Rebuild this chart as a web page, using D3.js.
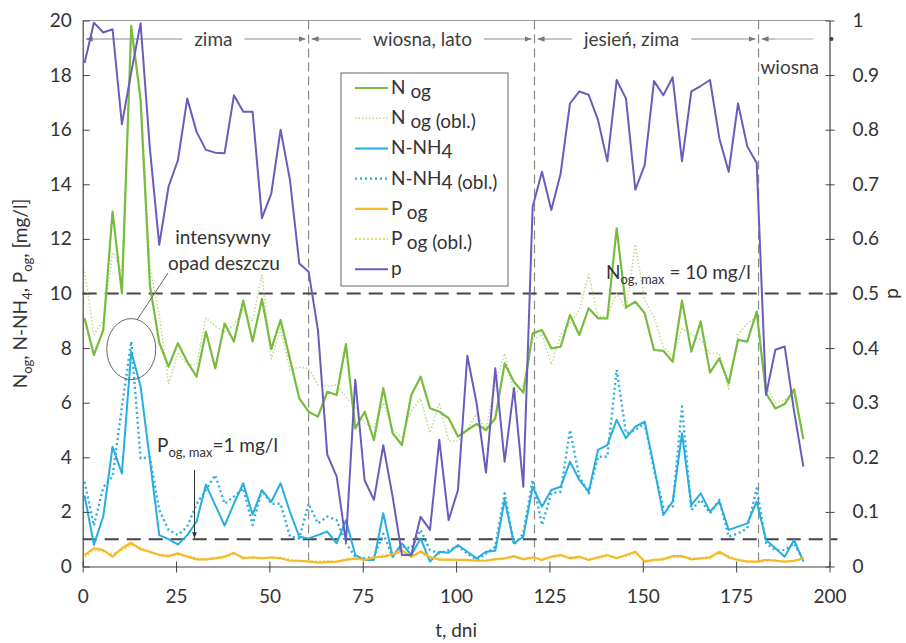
<!DOCTYPE html>
<html lang="pl">
<head>
<meta charset="UTF-8">
<title>N og, N-NH4, P og, p</title>
<script src="https://cdn.jsdelivr.net/npm/d3@7"></script>
<style>
  body { margin: 0; background: #fff; }
  svg text { font-family: Lato, "Open Sans", sans-serif; fill: #333; }
</style>
</head>
<body>
<script>
// sampling days
var days = [0.5, 3, 5.5, 8, 10.5, 13, 15.5, 18, 20.5, 23, 25.5, 28, 30.5, 33, 35.5, 38, 40.5, 43, 45.5, 48,
  50.5, 53, 55.5, 58, 60.5, 63, 65.5, 68, 70.5, 73, 75.5, 78, 80.5, 83, 85.5, 88, 90.5, 93, 95.5, 98,
  100.5, 103, 105.5, 108, 110.5, 113, 115.5, 118, 120.5, 123, 125.5, 128, 130.5, 133, 135.5, 138, 140.5, 143, 145.5, 148,
  150.5, 153, 155.5, 158, 160.5, 163, 165.5, 168, 170.5, 173, 175.5, 178, 180.5, 183, 185.5, 188, 190.5, 193];

var nOg = [9.09, 7.75, 8.66, 13.0, 10.0, 19.8, 17.1, 10.3, 8.2, 7.32,
  8.18, 7.5, 6.95, 8.6, 7.26, 8.9, 8.24, 9.74, 8.24, 9.8,
  7.96, 9.03, 7.6, 6.16, 5.67, 5.49, 6.4, 6.28, 8.15, 5.06,
  5.67, 4.63, 6.53, 4.88, 4.45, 6.28, 6.95, 5.8, 5.67, 5.43,
  4.76, 5.0, 5.22, 5.0, 5.43, 7.44, 6.76, 6.37, 8.54, 8.66,
  7.99, 8.05, 9.21, 8.48, 9.46, 9.09, 9.09, 12.39, 9.49, 9.7,
  9.28, 7.93, 7.9, 7.5, 9.74, 7.87, 8.97, 7.1, 7.62, 6.71,
  8.3, 8.24, 9.34, 6.34, 5.79, 5.95, 6.49, 4.66];

var nOgObl = [10.8, 8.5, 9.0, 11.5, 10.8, 19.5, 17.3, 11.0, 9.2, 6.7,
  7.8, 7.4, 7.4, 9.1, 8.8, 8.6, 8.85, 9.4, 9.0, 10.7,
  7.6, 8.7, 7.2, 7.3, 7.26, 6.65, 6.6, 6.65, 6.2, 5.85,
  5.25, 5.1, 6.0, 5.0, 4.75, 5.7, 6.15, 4.9, 6.0, 4.6,
  4.6, 5.0, 5.6, 5.0, 6.7, 7.8, 6.3, 6.65, 8.3, 8.5,
  7.4, 8.5, 8.9, 9.4, 10.7, 9.15, 9.15, 10.0, 9.4, 11.8,
  9.76, 9.15, 8.05, 7.7, 8.7, 8.5, 8.3, 7.8, 7.8, 6.5,
  8.5, 8.9, 9.15, 6.6, 6.0, 6.1, 6.35, 4.6];

var nh4 = [2.6, 0.79, 1.83, 4.39, 3.41, 7.87, 6.6, 3.9, 1.15, 1.0,
  0.8, 1.15, 1.65, 3.0, 2.25, 1.5, 2.3, 3.05, 1.9, 2.8,
  2.37, 3.05, 2.0, 1.09, 1.03, 1.15, 1.28, 0.85, 1.7, 0.42,
  0.24, 0.24, 1.95, 0.36, 0.85, 0.42, 1.03, 0.18, 0.54, 0.5,
  0.79, 0.54, 0.3, 0.54, 0.58, 2.44, 0.85, 1.09, 2.92, 2.19,
  2.8, 2.92, 3.84, 3.17, 2.74, 4.27, 4.45, 5.37, 4.7, 5.12,
  5.31, 3.66, 1.89, 2.38, 4.88, 2.25, 2.68, 2.01, 2.38, 1.34,
  1.46, 1.58, 2.38, 0.97, 0.67, 0.36, 0.97, 0.18];

var nh4Obl = [3.1, 1.5, 2.9, 3.3, 5.85, 8.24, 3.96, 4.0, 2.07, 1.34,
  1.15, 1.46, 2.3, 2.8, 3.35, 2.3, 2.56, 2.86, 1.52, 2.8,
  2.3, 2.3, 1.1, 1.03, 2.3, 1.58, 1.83, 1.7, 0.85, 0.36,
  0.3, 0.36, 1.2, 0.36, 0.73, 0.67, 1.34, 0.6, 0.48, 0.6,
  0.73, 0.48, 0.24, 0.48, 0.73, 2.68, 0.79, 1.21, 3.17, 1.52,
  2.68, 2.74, 5.0, 3.29, 2.68, 4.02, 4.02, 7.2, 4.88, 5.0,
  5.25, 3.54, 2.19, 2.19, 5.86, 2.07, 2.44, 1.95, 2.44, 1.09,
  1.21, 1.4, 2.86, 0.85, 0.6, 0.6, 0.85, 0.24];

var pOg = [0.42, 0.67, 0.6, 0.36, 0.67, 0.87, 0.63, 0.54, 0.42, 0.38,
  0.48, 0.36, 0.26, 0.26, 0.3, 0.36, 0.5, 0.3, 0.34, 0.3,
  0.34, 0.3, 0.21, 0.21, 0.18, 0.14, 0.16, 0.18, 0.24, 0.3,
  0.24, 0.34, 0.36, 0.45, 0.6, 0.35, 0.55, 0.35, 0.25, 0.25,
  0.24, 0.24, 0.21, 0.22, 0.26, 0.3, 0.38, 0.26, 0.34, 0.24,
  0.36, 0.42, 0.3, 0.36, 0.24, 0.34, 0.42, 0.3, 0.42, 0.54,
  0.18, 0.24, 0.26, 0.38, 0.38, 0.26, 0.3, 0.34, 0.54, 0.34,
  0.24, 0.18, 0.18, 0.24, 0.21, 0.18, 0.21, 0.3];

var pOgObl = [0.35, 0.6, 0.55, 0.45, 0.6, 0.8, 0.7, 0.5, 0.45, 0.4,
  0.42, 0.4, 0.3, 0.25, 0.33, 0.32, 0.45, 0.35, 0.3, 0.33,
  0.3, 0.33, 0.25, 0.2, 0.2, 0.18, 0.2, 0.16, 0.28, 0.26,
  0.28, 0.3, 0.4, 0.4, 0.55, 0.4, 0.5, 0.32, 0.28, 0.22,
  0.26, 0.22, 0.24, 0.2, 0.28, 0.28, 0.35, 0.3, 0.3, 0.28,
  0.33, 0.38, 0.34, 0.33, 0.28, 0.3, 0.38, 0.34, 0.38, 0.5,
  0.22, 0.22, 0.3, 0.35, 0.35, 0.3, 0.28, 0.3, 0.5, 0.38,
  0.22, 0.2, 0.16, 0.2, 0.24, 0.16, 0.2, 0.28];

// p (right axis)
var pRatio = [0.922, 0.996, 0.978, 0.984, 0.810, 0.905, 0.995, 0.765, 0.589, 0.696,
  0.744, 0.857, 0.796, 0.763, 0.758, 0.757, 0.863, 0.833, 0.833, 0.638,
  0.683, 0.800, 0.708, 0.555, 0.540, 0.433, 0.205, 0.165, 0.045, 0.342,
  0.158, 0.122, 0.222, 0.128, 0.021, 0.021, 0.091, 0.067, 0.232, 0.085,
  0.140, 0.386, 0.299, 0.172, 0.363, 0.192, 0.327, 0.146, 0.659, 0.723,
  0.653, 0.720, 0.848, 0.870, 0.864, 0.818, 0.742, 0.891, 0.857, 0.690,
  0.735, 0.889, 0.863, 0.896, 0.742, 0.870, 0.880, 0.891, 0.784, 0.723,
  0.848, 0.769, 0.739, 0.314, 0.397, 0.403, 0.285, 0.183];

var xTicks = [0, 25, 50, 75, 100, 125, 150, 175, 200];
var yTicksLeft = [0, 2, 4, 6, 8, 10, 12, 14, 16, 18, 20];
var yTicksRight = [0, 0.1, 0.2, 0.3, 0.4, 0.5, 0.6, 0.7, 0.8, 0.9, 1];

var seasonNames = ["zima", "wiosna, lato", "jesień, zima", "wiosna"];
var seasonBounds = [0, 60.5, 121, 181, 200];
var limits = [10, 1];

var w = 906;
var h = 643;

var x = d3.scaleLinear().domain([0, 200]).range([82.7, 829.5]);
var yL = d3.scaleLinear().domain([0, 20]).range([566.5, 20.5]);
var yR = d3.scaleLinear().domain([0, 1]).range([566.5, 20.5]);

var svg = d3.select("body")
  .append("svg")
  .attr("width", w)
  .attr("height", h);

var defs = svg.append("defs");
defs.append("marker")
  .attr("id", "arr")
  .attr("viewBox", "0 0 10 10")
  .attr("refX", 10).attr("refY", 5)
  .attr("markerWidth", 7).attr("markerHeight", 7)
  .attr("orient", "auto-start-reverse")
  .append("path")
  .attr("d", "M0,1L10,5L0,9z")
  .attr("fill", "#777");
defs.append("marker")
  .attr("id", "arrDark")
  .attr("viewBox", "0 0 10 10")
  .attr("refX", 10).attr("refY", 5)
  .attr("markerWidth", 6).attr("markerHeight", 6)
  .attr("orient", "auto")
  .append("path")
  .attr("d", "M0,1L10,5L0,9z")
  .attr("fill", "#333");

// frame top
svg.append("line")
  .attr("x1", x(0)).attr("x2", x(200))
  .attr("y1", yL(20)).attr("y2", yL(20))
  .attr("stroke", "#999").attr("stroke-width", 1);

// season separators
svg.selectAll("line.sep")
  .data(seasonBounds.slice(1, 4))
  .enter()
  .append("line")
  .attr("class", "sep")
  .attr("x1", function (d) { return x(d); })
  .attr("x2", function (d) { return x(d); })
  .attr("y1", yL(20)).attr("y2", yL(0))
  .attr("stroke", "#8a8a8a")
  .attr("stroke-width", 1.2)
  .attr("stroke-dasharray", "9,5");

// limit lines
svg.selectAll("line.limit")
  .data(limits)
  .enter()
  .append("line")
  .attr("class", "limit")
  .attr("x1", x(0)).attr("x2", x(200) + 8)
  .attr("y1", function (d) { return yL(d); })
  .attr("y2", function (d) { return yL(d); })
  .attr("stroke", "#444")
  .attr("stroke-width", 2)
  .attr("stroke-dasharray", "14,8");

// season labels with arrows
var seasonLabelX = [35, 91, 147, 181.5];
seasonNames.forEach(function (name, i) {
  var x0 = x(seasonBounds[i]) + 3;
  var x1 = x(seasonBounds[i + 1]) - 3;
  var ly = 39;
  if (i < 3) {
    var t = svg.append("text")
      .attr("x", x(seasonLabelX[i]))
      .attr("y", ly + 7)
      .attr("text-anchor", "middle")
      .style("font-size", "19px")
      .style("fill", "#404040")
      .text(name);
    var tw = t.node().getComputedTextLength();
    var cx = x(seasonLabelX[i]);
    svg.append("line")
      .attr("x1", cx - tw / 2 - 12).attr("x2", x0)
      .attr("y1", ly).attr("y2", ly)
      .attr("stroke", "#888").attr("stroke-width", 1)
      .attr("marker-end", "url(#arr)");
    svg.append("line")
      .attr("x1", cx + tw / 2 + 12).attr("x2", x1)
      .attr("y1", ly).attr("y2", ly)
      .attr("stroke", "#888").attr("stroke-width", 1)
      .attr("marker-end", "url(#arr)");
  } else {
    svg.append("text")
      .attr("x", x(seasonLabelX[i]))
      .attr("y", 74)
      .style("font-size", "19px")
      .style("fill", "#404040")
      .text(name);
    svg.append("line")
      .attr("x1", x0 + 14).attr("x2", x0)
      .attr("y1", ly).attr("y2", ly)
      .attr("stroke", "#888").attr("stroke-width", 1)
      .attr("marker-end", "url(#arr)");
    svg.append("line")
      .attr("x1", x0 + 14).attr("x2", x(200) - 16)
      .attr("y1", ly).attr("y2", ly)
      .attr("stroke", "#aaa").attr("stroke-width", 1);
    svg.append("circle")
      .attr("cx", x(200) + 2).attr("cy", ly).attr("r", 2)
      .attr("fill", "#444");
  }
});

// series
var series = [
  { values: nOgObl, scale: yL, color: "#b9dc8c", width: 1.5, dash: "1.5,2" },
  { values: pOgObl, scale: yL, color: "#e2df5a", width: 2, dash: "2,2" },
  { values: nh4Obl, scale: yL, color: "#2aaee0", width: 2.4, dash: "2,3" },
  { values: nOg, scale: yL, color: "#77bc3d", width: 2.2, dash: null },
  { values: nh4, scale: yL, color: "#27aee0", width: 2, dash: null },
  { values: pOg, scale: yL, color: "#f7b928", width: 2.2, dash: null },
  { values: pRatio, scale: yR, color: "#6a5cbc", width: 2, dash: null }
];

series.forEach(function (s) {
  var line = d3.line()
    .x(function (d, i) { return x(days[i]); })
    .y(function (d) { return s.scale(d); });
  svg.append("path")
    .datum(s.values)
    .attr("d", line)
    .attr("fill", "none")
    .attr("stroke", s.color)
    .attr("stroke-width", s.width)
    .attr("stroke-linejoin", "round")
    .attr("stroke-dasharray", s.dash);
});

// axes
var axL = svg.append("g")
  .attr("transform", "translate(" + x(0) + ",0)")
  .call(d3.axisLeft(yL).tickValues(yTicksLeft).tickSizeInner(-7).tickSizeOuter(0).tickPadding(11));
var axR = svg.append("g")
  .attr("transform", "translate(" + x(200) + ",0)")
  .call(d3.axisRight(yR).tickValues(yTicksRight).tickSizeInner(5).tickSizeOuter(0).tickPadding(18)
    .tickFormat(function (d) { return d === 0 || d === 1 ? String(d) : d.toFixed(1); }));
var axB = svg.append("g")
  .attr("transform", "translate(0," + yL(0) + ")")
  .call(d3.axisBottom(x).tickValues(xTicks).tickSizeInner(6).tickSizeOuter(0).tickPadding(17));

axR.selectAll(".tick line").attr("x1", -4);
axB.selectAll(".tick line").attr("y1", -5);

[axL, axR, axB].forEach(function (a) {
  a.select(".domain").attr("stroke", "#444").attr("stroke-width", 1.2);
  a.selectAll(".tick line").attr("stroke", "#444");
  a.selectAll("text")
    .style("font-family", "Lato, 'Open Sans', sans-serif")
    .style("font-size", "19px")
    .style("fill", "#333");
});

// axis titles
var yTitle = svg.append("text")
  .attr("transform", "translate(27," + yL(10) + ") rotate(-90)")
  .attr("text-anchor", "middle")
  .style("font-size", "19px");
yTitle.append("tspan").text("N");
yTitle.append("tspan").attr("dy", 5).style("font-size", "13px").text("og");
yTitle.append("tspan").attr("dy", -5).text(", N-NH");
yTitle.append("tspan").attr("dy", 5).style("font-size", "13px").text("4");
yTitle.append("tspan").attr("dy", -5).text(", P");
yTitle.append("tspan").attr("dy", 5).style("font-size", "13px").text("og");
yTitle.append("tspan").attr("dy", -5).text(", [mg/l]");

svg.append("text")
  .attr("transform", "translate(898," + yL(10) + ") rotate(-90)")
  .attr("text-anchor", "middle")
  .style("font-size", "19px")
  .text("p");

svg.append("text")
  .attr("x", x(100))
  .attr("y", 637)
  .attr("text-anchor", "middle")
  .style("font-size", "19px")
  .text("t, dni");

// legend
var legendLabels = [["N ", "og", ""], ["N ", "og", " (obl.)"], ["N-NH", "4", ""], ["N-NH", "4", " (obl.)"],
  ["P ", "og", ""], ["P ", "og", " (obl.)"], ["p", "", ""]];
var legendOrder = [3, 0, 4, 2, 5, 1, 6];

var lg = svg.append("g").attr("transform", "translate(341,73)");
lg.append("rect")
  .attr("width", 167).attr("height", 213)
  .attr("fill", "#fff")
  .attr("stroke", "#666").attr("stroke-width", 1);

legendLabels.forEach(function (lab, i) {
  var s = series[legendOrder[i]];
  var ry = 15 + i * 30.2;
  lg.append("line")
    .attr("x1", 14).attr("x2", 47)
    .attr("y1", ry).attr("y2", ry)
    .attr("stroke", s.color)
    .attr("stroke-width", s.width)
    .attr("stroke-dasharray", s.dash);
  var t = lg.append("text")
    .attr("x", 50).attr("y", ry + 6)
    .style("font-size", "19px");
  t.append("tspan").text(lab[0]);
  if (lab[1]) t.append("tspan").attr("dy", 4).text(lab[1]);
  if (lab[2]) t.append("tspan").text(lab[2]);
});

// annotations
var nMax = svg.append("text").attr("x", 606).attr("y", 279).style("font-size", "19px");
nMax.append("tspan").text("N");
nMax.append("tspan").attr("dy", 5).style("font-size", "13px").text("og, max");
nMax.append("tspan").attr("dy", -5).text(" = 10 mg/l");

var pMax = svg.append("text").attr("x", 157).attr("y", 452).style("font-size", "19px");
pMax.append("tspan").text("P");
pMax.append("tspan").attr("dy", 5).style("font-size", "13px").text("og, max");
pMax.append("tspan").attr("dy", -5).text("=1 mg/l");

svg.append("line")
  .attr("x1", 194.5).attr("x2", 194.5)
  .attr("y1", 470).attr("y2", yL(1) - 1)
  .attr("stroke", "#333").attr("stroke-width", 1)
  .attr("marker-end", "url(#arrDark)");

svg.append("text")
  .attr("x", 223).attr("y", 244)
  .attr("text-anchor", "middle")
  .style("font-size", "19px")
  .text("intensywny");
svg.append("text")
  .attr("x", 224).attr("y", 270)
  .attr("text-anchor", "middle")
  .style("font-size", "19px")
  .text("opad deszczu");

svg.append("ellipse")
  .attr("cx", x(13)).attr("cy", yL(8) + 1)
  .attr("rx", 24.5).attr("ry", 30.5)
  .attr("fill", "none")
  .attr("stroke", "#666").attr("stroke-width", 1);
svg.append("line")
  .attr("x1", 137).attr("y1", 320)
  .attr("x2", 168).attr("y2", 273)
  .attr("stroke", "#666").attr("stroke-width", 1);
</script>
</body>
</html>
